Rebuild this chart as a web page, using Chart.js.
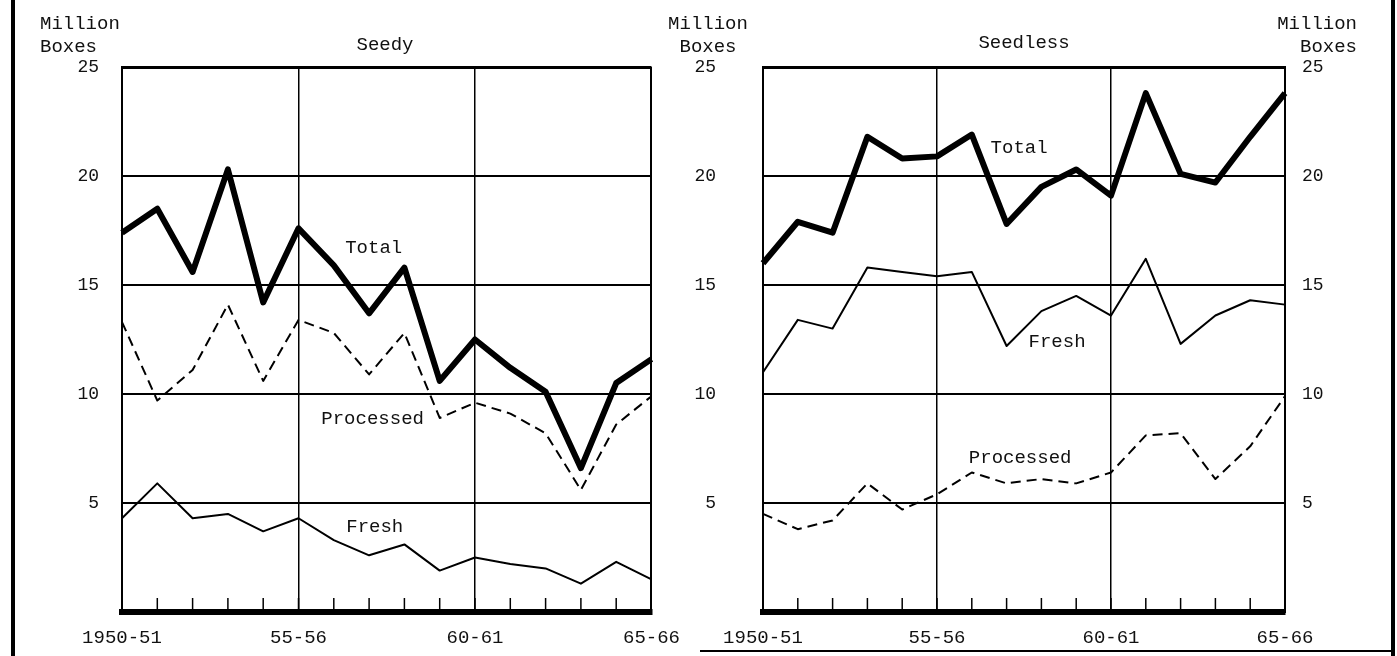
<!DOCTYPE html>
<html>
<head>
<meta charset="utf-8">
<script src="https://cdn.jsdelivr.net/npm/chart.js@4.4.1/dist/chart.umd.min.js"></script>
<style>
  body { margin: 0; background: #fff; }
  #page { position: relative; width: 1397px; height: 656px; overflow: hidden; font-family: "Liberation Mono", "DejaVu Sans Mono", monospace; color: #111; }
  .txt { position: absolute; font-size: 19px; line-height: 23px; white-space: pre; }
  .box { position: absolute; top: 0; height: 656px; }
  .frame { position: absolute; background: #000; }
</style>
</head>
<body>
<div id="page">
  <div class="box" style="left:0; width:695px;"><canvas id="seedy"></canvas></div>
  <div class="box" style="left:695px; width:702px;"><canvas id="seedless"></canvas></div>

  <div class="txt" style="left:40px; top:13px;">Million
Boxes</div>
  <div class="txt" style="left:668px; top:13px; width:80px; text-align:center;">Million
Boxes</div>
  <div class="txt" style="left:1277px; top:13px; width:80px; text-align:right;">Million
Boxes</div>
  <div class="txt" style="left:335px; top:34px; width:100px; text-align:center;">Seedy</div>
  <div class="txt" style="left:964px; top:32px; width:120px; text-align:center;">Seedless</div>

  <div class="frame" style="left:11px; top:0; width:4px; height:656px;"></div>
  <div class="frame" style="left:1391px; top:0; width:4px; height:656px;"></div>
  <div class="frame" style="left:700px; top:650px; width:695px; height:2px;"></div>
</div>
<script>
// seasons on the x axis
var years = ['1950-51','1951-52','1952-53','1953-54','1954-55','1955-56','1956-57','1957-58',
             '1958-59','1959-60','1960-61','1961-62','1962-63','1963-64','1964-65','1965-66'];
var yearTicks = ['1950-51','55-56','60-61','65-66']; // shown every 5 seasons

// Seedy, million boxes
var seedyTotal     = [17.4,18.5,15.6,20.3,14.2,17.6,15.9,13.7,15.8,10.6,12.5,11.2,10.1,6.6,10.5,11.6];
var seedyProcessed = [13.3,9.7,11.1,14.1,10.6,13.4,12.8,10.9,12.8,8.9,9.6,9.1,8.2,5.6,8.6,9.9];
var seedyFresh     = [4.3,5.9,4.3,4.5,3.7,4.3,3.3,2.6,3.1,1.9,2.5,2.2,2.0,1.3,2.3,1.5];

// Seedless, million boxes
var seedlessTotal     = [16.0,17.9,17.4,21.8,20.8,20.9,21.9,17.8,19.5,20.3,19.1,23.8,20.1,19.7,21.8,23.8];
var seedlessFresh     = [11.0,13.4,13.0,15.8,15.6,15.4,15.6,12.2,13.8,14.5,13.6,16.2,12.3,13.6,14.3,14.1];
var seedlessProcessed = [4.5,3.8,4.2,5.9,4.7,5.4,6.4,5.9,6.1,5.9,6.4,8.1,8.2,6.1,7.6,9.9];

var FONT = '"Liberation Mono", "DejaVu Sans Mono", monospace';
var INK = '#111';

// small ticks pointing up from the bottom axis + the series names
var panelExtras = {
    id: 'panelExtras',
    afterDatasetsDraw: function(chart, args, opts) {
        var ctx = chart.ctx;
        var x = chart.scales.x, y = chart.scales.y;
        var bottom = chart.chartArea.bottom;
        ctx.save();
        ctx.strokeStyle = '#000';
        ctx.lineWidth = 1.5;
        for (var i = 1; i < years.length - 1; i++) {
            var px = x.getPixelForValue(i);
            ctx.beginPath();
            ctx.moveTo(px, bottom);
            ctx.lineTo(px, bottom - 14);
            ctx.stroke();
        }
        ctx.fillStyle = INK;
        ctx.font = '19px ' + FONT;
        ctx.textAlign = 'center';
        ctx.textBaseline = 'middle';
        (opts.labels || []).forEach(function(l) {
            ctx.fillText(l.text, x.getPixelForValue(l.x), y.getPixelForValue(l.y));
        });
        ctx.restore();
    }
};

function makeLine(label, data, width, dash) {
    return {
        label: label,
        data: data,
        borderColor: '#000',
        borderWidth: width,
        borderDash: dash || [],
        borderJoinStyle: 'round',
        pointRadius: 0,
        tension: 0,
        fill: false
    };
}

function xAxis() {
    return {
        type: 'category',
        offset: false,
        border: { display: true, color: '#000', width: 6 },
        grid: {
            drawTicks: false,
            color: function(c) { return (c.index === 5 || c.index === 10 || c.index === 15) ? '#000' : 'rgba(0,0,0,0)'; },
            lineWidth: function(c) { return c.index === 15 ? 2 : 1.5; }
        },
        ticks: {
            autoSkip: false,
            maxRotation: 0,
            padding: 15,
            color: INK,
            font: { family: FONT, size: 19 },
            callback: function(v, i) { return i % 5 === 0 ? yearTicks[i / 5] : ''; }
        },
        afterFit: function(s) { s.height = 44; }
    };
}

function yAxis(pos, width, pad, showGrid) {
    return {
        position: pos,
        min: 0,
        max: 25,
        border: { display: true, color: '#000', width: 2 },
        grid: {
            display: showGrid,
            drawTicks: false,
            color: function(c) { return c.tick.value === 0 ? 'rgba(0,0,0,0)' : '#000'; },
            lineWidth: function(c) { return c.tick.value === 25 ? 3 : 2; }
        },
        ticks: {
            stepSize: 5,
            padding: pad,
            color: INK,
            font: { family: FONT, size: 18 },
            callback: function(v) { return v === 0 ? '' : v; }
        },
        // fixed width; the label padding must not push the plot edges in
        afterFit: function(s) {
            s.width = width;
            s.paddingTop = 0;
            s.paddingBottom = 0;
        }
    };
}

new Chart(document.getElementById('seedy').getContext('2d'), {
    type: 'line',
    data: {
        labels: years,
        datasets: [
            makeLine('Total', seedyTotal, 6),
            makeLine('Processed', seedyProcessed, 2, [10, 6]),
            makeLine('Fresh', seedyFresh, 2)
        ]
    },
    options: {
        responsive: true,
        maintainAspectRatio: false,
        animation: false,
        layout: { padding: { top: 67, right: 43, left: 0, bottom: 0 } },
        scales: { x: xAxis(), y: yAxis('left', 122, 23, true) },
        plugins: {
            legend: { display: false },
            tooltip: { enabled: false },
            panelExtras: { labels: [
                { text: 'Total', x: 7.13, y: 16.7 },
                { text: 'Processed', x: 7.1, y: 8.85 },
                { text: 'Fresh', x: 7.16, y: 3.9 }
            ] }
        }
    },
    plugins: [panelExtras]
});

new Chart(document.getElementById('seedless').getContext('2d'), {
    type: 'line',
    data: {
        labels: years,
        datasets: [
            makeLine('Total', seedlessTotal, 6),
            makeLine('Fresh', seedlessFresh, 2),
            makeLine('Processed', seedlessProcessed, 2, [10, 6])
        ]
    },
    options: {
        responsive: true,
        maintainAspectRatio: false,
        animation: false,
        layout: { padding: { top: 67, right: 0, left: 0, bottom: 0 } },
        scales: { x: xAxis(), y: yAxis('left', 68, 47, true), y2: yAxis('right', 112, 17, false) },
        plugins: {
            legend: { display: false },
            tooltip: { enabled: false },
            panelExtras: { labels: [
                { text: 'Total', x: 7.36, y: 21.3 },
                { text: 'Fresh', x: 8.45, y: 12.4 },
                { text: 'Processed', x: 7.39, y: 7.05 }
            ] }
        }
    },
    plugins: [panelExtras]
});
</script>
</body>
</html>
